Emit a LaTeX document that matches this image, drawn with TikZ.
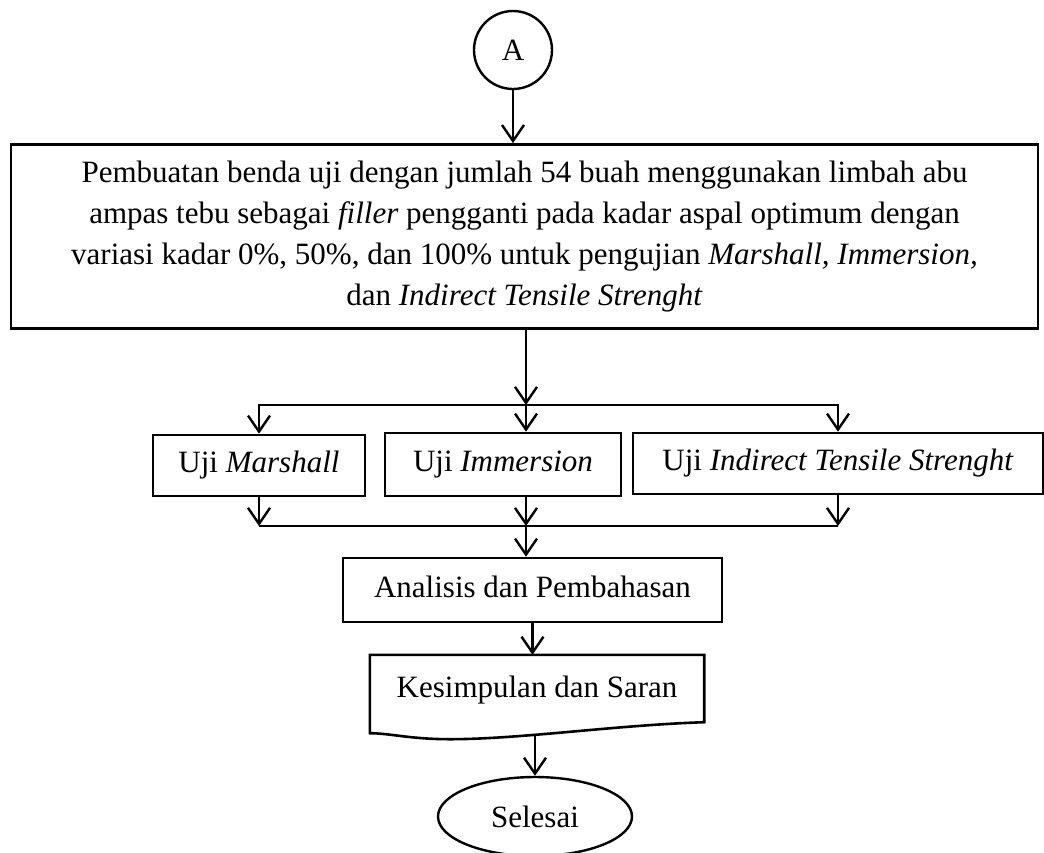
\documentclass[tikz,border=0pt]{standalone}
\usepackage{fontspec}
\setmainfont{Liberation Serif}
\usetikzlibrary{arrows.meta,shapes.geometric}
\begin{document}
\begin{tikzpicture}[x=1pt,y=-1pt,
  every node/.style={font=\fontsize{31}{41}\selectfont},
  box/.style={draw,line width=2.6pt,inner sep=0pt,text height=21pt,text depth=7pt},
  conn/.style={line width=2.6pt},
  arr/.style={conn,-{Straight Barb[length=16pt,width=22pt,line width=2.4pt]}},
]
\useasboundingbox (0,0) rectangle (1044,852);

\node[draw,circle,line width=2.4pt,minimum size=78pt,inner sep=0pt] (A) at (513,50) {A};

\node[draw,line width=2.8pt,minimum width=1027pt,minimum height=184pt,align=center,inner sep=0pt] (main) at (524.5,236.5)
 {Pembuatan benda uji dengan jumlah 54 buah menggunakan limbah abu\\
  ampas tebu sebagai \textit{filler} pengganti pada kadar aspal optimum dengan\\
  variasi kadar 0\%, 50\%, dan 100\% untuk pengujian \textit{Marshall, Immersion,}\\
  dan \textit{Indirect Tensile Strenght}};

\node[box,minimum width=212pt,minimum height=61pt] (mar) at (259,465.5) {Uji \textit{Marshall}};
\node[box,minimum width=236pt,minimum height=63pt] (imm) at (503,464.5) {Uji \textit{Immersion}};
\node[box,minimum width=410pt,minimum height=61pt] (its) at (838,463.5) {Uji \textit{Indirect Tensile Strenght}};
\node[box,minimum width=379pt,minimum height=64pt] (ana) at (532.5,590) {Analisis dan Pembahasan};

\node[inner sep=0pt,text height=21pt,text depth=21pt,minimum width=334pt,minimum height=84pt] (doc) at (537,697) {Kesimpulan dan Saran};
\draw[conn,line join=miter] ([shift={(0,-6)}]doc.south west) -- (doc.north west) -- (doc.north east)
  -- ([shift={(0,-17)}]doc.south east)
  .. controls +(-90,3) and +(70,0) .. ([shift={(-87,0)}]doc.south)
  .. controls +(-40,0) and +(20,0) .. ([shift={(0,-6)}]doc.south west) -- cycle;

\node[draw,ellipse,line width=2.4pt,minimum width=194pt,minimum height=79pt,inner sep=0pt] (sel) at (535,816.5) {Selesai};

\coordinate (b1) at (526,405);
\coordinate (b2) at (526,526);
\coordinate (docb) at (535,736);

\draw[arr] (A.south) -- (A.south |- main.north);
\draw[arr] (b1 |- main.south) -- (b1);
\draw[arr] (b1) -| (mar.north);
\draw[arr] (b1) -- (b1 |- imm.north);
\draw[arr] (b1) -| (its.north);

\draw[arr] (mar.south) -- (mar.south |- b2);
\draw[arr] (b2 |- imm.south) -- (b2);
\draw[arr] (its.south) -- (its.south |- b2);
\draw[conn] (mar.south |- b2) -- (its.south |- b2);
\draw[arr] (b2) -- (b2 |- ana.north);
\draw[arr] (ana.south) -- (ana.south |- doc.north);
\draw[arr] (docb) -- (sel.north);
\end{tikzpicture}
\end{document}
